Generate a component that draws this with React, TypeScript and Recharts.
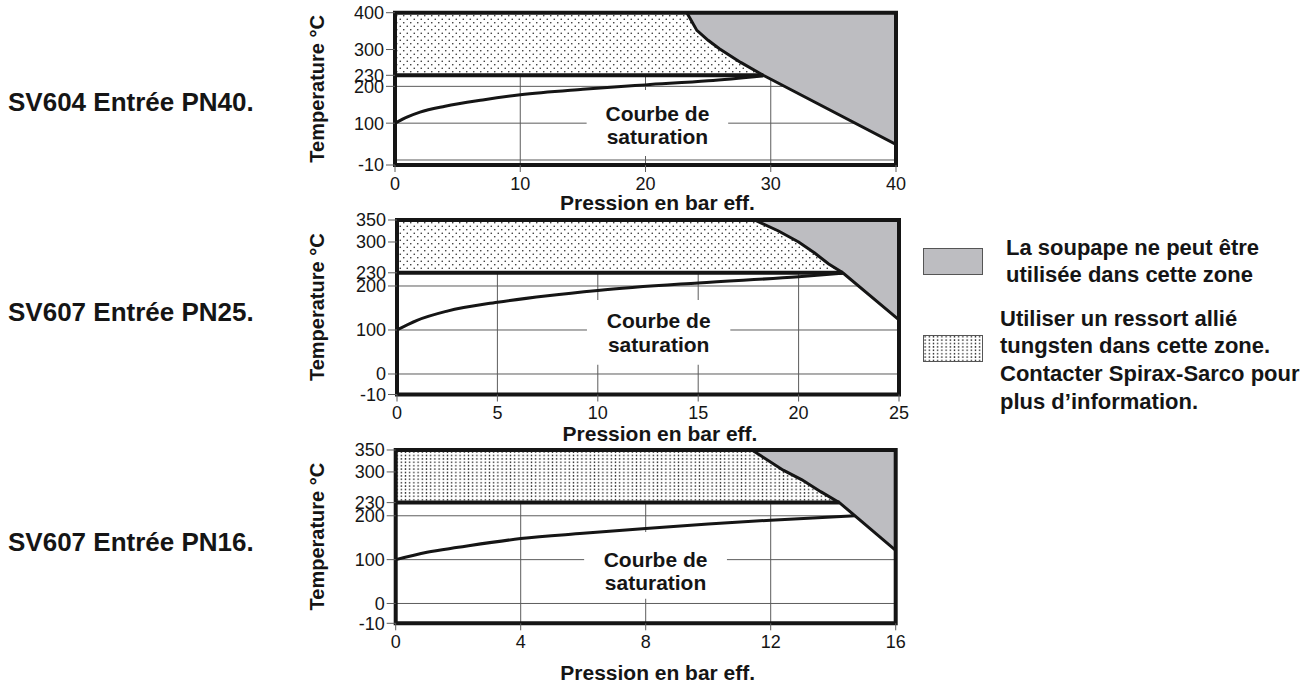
import React from "react";
import {
  ComposedChart,
  Area,
  Line,
  XAxis,
  YAxis,
  CartesianGrid,
  ReferenceArea,
} from "recharts";

const FONT = '"Liberation Sans", Arial, Helvetica, sans-serif';
const INK = "#151515";
const GRID = "#5c5c5c";
const LIMIT_GREY = "#bdbdc1";
const TUNGSTEN_FLOOR = 230;

// SV604 Entrée PN40
const pn40PressureTicks = [0, 10, 20, 30, 40];
const pn40TempTicks = [-10, 100, 200, 230, 300, 400];
const pn40GridPressure = [10, 20, 30];
const pn40GridTemp = [0, 100, 200];
const pn40SatPressure = [0, 1, 2, 4, 7, 10, 15, 20, 25, 29.4];
const pn40SatTemp = [100, 117, 130, 146, 163, 177, 192, 204, 215, 229];
const pn40LimitPressure = [23.3, 24.1, 25.0, 25.9, 27.6, 29.4, 40];
const pn40LimitTemp = [400, 352, 325, 302, 265, 230, 42];

// SV607 Entrée PN25
const pn25PressureTicks = [0, 5, 10, 15, 20, 25];
const pn25TempTicks = [-10, 0, 100, 200, 230, 300, 350];
const pn25GridPressure = [5, 10, 15, 20];
const pn25GridTemp = [0, 100, 200];
const pn25SatPressure = [0, 1, 2.5, 5, 7.5, 10, 15, 20, 22.2];
const pn25SatTemp = [100, 122, 143, 163, 178, 190, 207, 221, 229];
const pn25LimitPressure = [17.8, 19.0, 20.0, 20.8, 21.5, 22.2, 25];
const pn25LimitTemp = [350, 325, 300, 275, 250, 230, 123];

// SV607 Entrée PN16
const pn16PressureTicks = [0, 4, 8, 12, 16];
const pn16TempTicks = [-10, 0, 100, 200, 230, 300, 350];
const pn16GridPressure = [4, 8, 12];
const pn16GridTemp = [0, 100, 200];
const pn16SatPressure = [0, 1, 2, 4, 6, 8, 10, 12, 14.7];
const pn16SatTemp = [100, 117, 128, 148, 160, 171, 181, 190, 200];
const pn16LimitPressure = [11.4, 12.4, 13.0, 13.6, 14.2, 16];
const pn16LimitTemp = [350, 304, 282, 255, 230, 121];

type DotTile = { w: number; h: number; dots: number[][] };

type PanelCfg = {
  id: string;
  title: string;
  titleY: number;
  top: number;
  marginTop: number;
  marginLeft: number;
  marginRight: number;
  plotHeight: number;
  axisHeight: number;
  xMax: number;
  yMax: number;
  belowZero: number; // the -10 band is drawn stretched
  xTicks: number[];
  yTicks: number[];
  gridX: number[];
  gridY: number[];
  satP: number[];
  satT: number[];
  limitP: number[];
  limitT: number[];
  box: number[];
  boxShift: number;
  xLabelOffset: number;
  yLabelOffset: number;
  tile: DotTile;
};

const wideDots: DotTile = { w: 7, h: 7, dots: [[1.75, 1.75], [5.25, 5.25]] };
const fineDots: DotTile = { w: 4.2, h: 3.4, dots: [[2.1, 1.7]] };

const panels: PanelCfg[] = [
  {
    id: "pn40", title: "SV604 Entrée PN40.", titleY: 102, top: 0,
    marginTop: 12.7, marginLeft: 25, marginRight: 14, plotHeight: 152.3, axisHeight: 50,
    xMax: 40, yMax: 400, belowZero: 1.36,
    xTicks: pn40PressureTicks, yTicks: pn40TempTicks, gridX: pn40GridPressure, gridY: pn40GridTemp,
    satP: pn40SatPressure, satT: pn40SatTemp, limitP: pn40LimitPressure, limitT: pn40LimitTemp,
    box: [15.3, 26.6, 11, 190], boxShift: 2, xLabelOffset: 30.5, yLabelOffset: 2, tile: wideDots,
  },
  {
    id: "pn25", title: "SV607 Entrée PN25.", titleY: 312, top: 200,
    marginTop: 20, marginLeft: 27, marginRight: 11, plotHeight: 174.5, axisHeight: 50,
    xMax: 25, yMax: 350, belowZero: 4.66,
    xTicks: pn25PressureTicks, yTicks: pn25TempTicks, gridX: pn25GridPressure, gridY: pn25GridTemp,
    satP: pn25SatPressure, satT: pn25SatTemp, limitP: pn25LimitPressure, limitT: pn25LimitTemp,
    box: [9.46, 16.6, 21, 168], boxShift: 0, xLabelOffset: 31.5, yLabelOffset: 0, tile: wideDots,
  },
  {
    id: "pn16", title: "SV607 Entrée PN16.", titleY: 542, top: 430,
    marginTop: 20, marginLeft: 25.7, marginRight: 14.3, plotHeight: 173.3, axisHeight: 62,
    xMax: 16, yMax: 350, belowZero: 4.52,
    xTicks: pn16PressureTicks, yTicks: pn16TempTicks, gridX: pn16GridPressure, gridY: pn16GridTemp,
    satP: pn16SatPressure, satT: pn16SatTemp, limitP: pn16LimitPressure, limitT: pn16LimitTemp,
    box: [6.03, 10.6, 10.5, 163], boxShift: 5.5, xLabelOffset: 42, yLabelOffset: 1.3, tile: fineDots,
  },
];

function SatLabel(props: any) {
  const vb = props.viewBox || { x: 0, y: 0, width: 0, height: 0 };
  const cx = vb.x + vb.width / 2;
  const cy = vb.y + vb.height / 2 + (props.shift || 0);
  return (
    <text x={cx} y={cy} textAnchor="middle" fontFamily={FONT} fontWeight="bold" fontSize={21} fill={INK}>
      <tspan x={cx} dy={-4.3}>Courbe de</tspan>
      <tspan x={cx} dy={23.4}>saturation</tspan>
    </text>
  );
}

function DotPattern({ id, tile }: { id: string; tile: DotTile }) {
  return (
    <pattern id={id} patternUnits="userSpaceOnUse" width={tile.w} height={tile.h}>
      <rect width={tile.w} height={tile.h} fill="#fff" />
      {tile.dots.map(([x, y], i) => (
        <circle key={i} cx={x} cy={y} r={0.8} fill="#2a2a2a" />
      ))}
    </pattern>
  );
}

function Panel({ cfg }: { cfg: PanelCfg }) {
  const stretch = (t: number) => (t < 0 ? t * cfg.belowZero : t);
  const yMin = stretch(-10);
  const saturation = cfg.satP.map((p, i) => ({ p, t: cfg.satT[i] }));
  const limitLine = cfg.limitP.map((p, i) => ({ p, t: cfg.limitT[i] }));
  const forbidden = cfg.limitP.map((p, i) => ({ p, band: [cfg.limitT[i], cfg.yMax] }));
  const tungsten = [
    { p: 0, band: [TUNGSTEN_FLOOR, cfg.yMax] },
    ...cfg.limitP.flatMap((p, i) =>
      cfg.limitT[i] >= TUNGSTEN_FLOOR ? [{ p, band: [TUNGSTEN_FLOOR, cfg.limitT[i]] }] : []
    ),
  ];
  const floorEnd = tungsten[tungsten.length - 1].p;
  const floor = [
    { p: 0, t: TUNGSTEN_FLOOR },
    { p: floorEnd, t: TUNGSTEN_FLOOR },
  ];
  const height = cfg.marginTop + cfg.plotHeight + cfg.axisHeight;
  const patternId = `dots-${cfg.id}`;

  return (
    <div style={{ position: "absolute", left: 290, top: cfg.top }}>
      <ComposedChart
        width={620}
        height={height}
        margin={{ top: cfg.marginTop, right: cfg.marginRight, bottom: 0, left: cfg.marginLeft }}
      >
        <defs>
          <DotPattern id={patternId} tile={cfg.tile} />
        </defs>
        <CartesianGrid
          stroke={GRID}
          strokeWidth={1}
          horizontalValues={cfg.gridY.map(stretch)}
          verticalValues={cfg.gridX}
        />
        <XAxis
          type="number"
          dataKey="p"
          domain={[0, cfg.xMax]}
          ticks={cfg.xTicks}
          interval={0}
          allowDataOverflow
          height={cfg.axisHeight}
          axisLine={false}
          tickSize={7}
          tickMargin={5}
          tickLine={{ stroke: GRID }}
          tick={{ fontSize: 18, fill: INK, fontFamily: FONT }}
          label={{
            value: "Pression en bar eff.",
            position: "insideTop",
            offset: cfg.xLabelOffset,
            dx: 12,
            style: { fontFamily: FONT, fontWeight: "bold", fontSize: 21, fill: INK },
          }}
        />
        <YAxis
          type="number"
          domain={[yMin, cfg.yMax]}
          ticks={cfg.yTicks.map(stretch)}
          interval={0}
          allowDataOverflow
          width={80}
          axisLine={false}
          tickSize={9}
          tickMargin={2}
          tickLine={{ stroke: GRID }}
          tick={{ fontSize: 18, fill: INK, fontFamily: FONT }}
          tickFormatter={(v: number) => String(v < 0 ? Math.round(v / cfg.belowZero) : v)}
          label={{
            value: "Temperature °C",
            angle: -90,
            position: "insideLeft",
            offset: cfg.yLabelOffset,
            style: { fontFamily: FONT, fontWeight: "bold", fontSize: 20, fill: INK, textAnchor: "middle" },
          }}
        />
        <ReferenceArea
          x1={cfg.box[0]}
          x2={cfg.box[1]}
          y1={cfg.box[2]}
          y2={cfg.box[3]}
          fill="#fff"
          fillOpacity={1}
          stroke="none"
          label={<SatLabel shift={cfg.boxShift} />}
        />
        <Area
          data={tungsten}
          dataKey="band"
          type="linear"
          fill={`url(#${patternId})`}
          fillOpacity={1}
          stroke="none"
          dot={false}
          activeDot={false}
          isAnimationActive={false}
        />
        <Area
          data={forbidden}
          dataKey="band"
          type="linear"
          fill={LIMIT_GREY}
          fillOpacity={1}
          stroke="none"
          dot={false}
          activeDot={false}
          isAnimationActive={false}
        />
        <Line data={floor} dataKey="t" type="linear" stroke={INK} strokeWidth={4} dot={false} activeDot={false} isAnimationActive={false} />
        <Line data={saturation} dataKey="t" type="monotone" stroke={INK} strokeWidth={3} dot={false} activeDot={false} isAnimationActive={false} />
        <Line data={limitLine} dataKey="t" type="linear" stroke={INK} strokeWidth={3} dot={false} activeDot={false} isAnimationActive={false} />
        <ReferenceArea
          x1={0}
          x2={cfg.xMax}
          y1={yMin}
          y2={cfg.yMax}
          fill="none"
          stroke={INK}
          strokeWidth={4}
          ifOverflow="visible"
        />
      </ComposedChart>
    </div>
  );
}

const textStyle: React.CSSProperties = {
  position: "absolute",
  fontFamily: FONT,
  fontWeight: "bold",
  color: INK,
  whiteSpace: "nowrap",
};

export default function App() {
  return (
    <div style={{ position: "absolute", left: 0, top: 0, width: 1304, height: 686, background: "#fff", overflow: "hidden" }}>
      {panels.map((cfg) => (
        <div key={`t-${cfg.id}`} style={{ ...textStyle, left: 8, top: cfg.titleY - 15, fontSize: 26, lineHeight: "30px" }}>
          {cfg.title}
        </div>
      ))}
      {panels.map((cfg) => (
        <Panel key={cfg.id} cfg={cfg} />
      ))}

      <div style={{ position: "absolute", left: 923, top: 248, width: 58, height: 25, background: LIMIT_GREY, border: "1px solid #555" }} />
      <div style={{ ...textStyle, left: 1006, top: 233.5, fontSize: 22, lineHeight: "27px" }}>
        La soupape ne peut être
        <br />
        utilisée dans cette zone
      </div>
      <svg style={{ position: "absolute", left: 923, top: 335 }} width={60} height={27}>
        <defs>
          <DotPattern id="dots-legend" tile={fineDots} />
        </defs>
        <rect x={0.5} y={0.5} width={59} height={26} fill="url(#dots-legend)" stroke="#555" />
      </svg>
      <div style={{ ...textStyle, left: 1000, top: 304.5, fontSize: 22, lineHeight: "27.7px" }}>
        Utiliser un ressort allié
        <br />
        tungsten dans cette zone.
        <br />
        Contacter Spirax-Sarco pour
        <br />
        plus d’information.
      </div>
    </div>
  );
}
